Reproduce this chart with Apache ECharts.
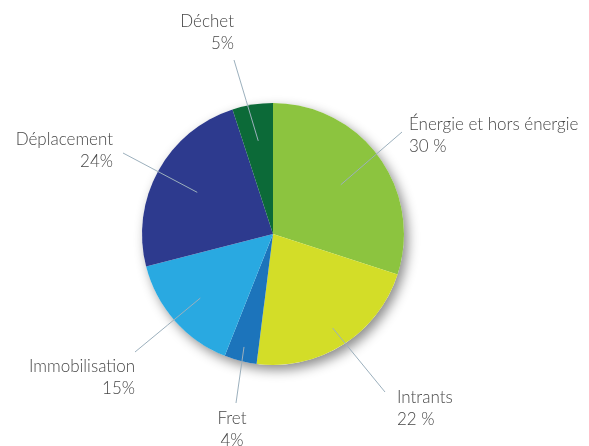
<!DOCTYPE html>
<html>
<head>
<meta charset="utf-8">
<script src="https://cdn.jsdelivr.net/npm/echarts@6/dist/echarts.min.js"></script>
<style>
  html, body { margin: 0; padding: 0; background: #ffffff; }
  #chart { width: 589px; height: 446px; }
</style>
</head>
<body>
<div id="chart"></div>
<script>
// Emission shares by post, clockwise from the top
const categories = ['Énergie et hors énergie', 'Intrants', 'Fret', 'Immobilisation', 'Déplacement', 'Déchet'];
const shares = [30, 22, 4, 15, 24, 5];
// spacing printed between the number and the % sign
const pctSeparators = ['\u00a0', '\u00a0', '', '', '', ''];
const sliceColors = ['#8cc43f', '#d3dd28', '#1c74bb', '#29a9e1', '#2d3a8e', '#0c6a38'];

// pie geometry
const CX = 273, CY = 234, R = 131;

// label placement and leader lines (inner end as a fraction of the radius, outer end in px)
const labelAnchors = [
  { x: 409, y: 114, align: 'left' },
  { x: 397, y: 387, align: 'left' },
  { x: 232, y: 408, align: 'center' },
  { x: 135, y: 356, align: 'right' },
  { x: 113, y: 129, align: 'right' },
  { x: 234, y: 11,  align: 'right' }
];
const lineInner = [0.64, 0.85, 0.89, 0.74, 0.66, 0.72];
const lineOuter = [[402, 132], [385, 392], [236, 403], [135, 352], [123, 153], [234, 60]];

const total = shares.reduce((a, b) => a + b, 0);
const midAngles = [];
let cum = 0;
shares.forEach(v => { midAngles.push((cum + v / 2) / total * 2 * Math.PI); cum += v; });

const sliceData = categories.map((name, i) => ({
  name: name,
  value: shares[i],
  itemStyle: { color: sliceColors[i] }
}));

const chart = echarts.init(document.getElementById('chart'), null, { renderer: 'canvas' });

chart.setOption({
  animation: false,
  backgroundColor: '#ffffff',
  series: [
    {
      // soft drop shadow under the whole disc
      type: 'pie',
      silent: true,
      center: [CX, CY],
      radius: [0, R],
      label: { show: false },
      labelLine: { show: false },
      itemStyle: {
        color: '#ffffff',
        shadowBlur: 12,
        shadowColor: 'rgba(0,0,0,0.45)',
        shadowOffsetX: 4,
        shadowOffsetY: 5
      },
      data: [{ value: total, name: '' }],
      z: 1
    },
    {
      // the coloured slices
      type: 'pie',
      center: [CX, CY],
      radius: [0, R],
      startAngle: 90,
      clockwise: true,
      z: 2,
      itemStyle: { borderWidth: 0 },
      label: { show: false },
      labelLine: { show: false },
      data: sliceData
    },
    {
      // transparent overlay carrying the labels, so leader lines run over the slices
      type: 'pie',
      silent: true,
      center: [CX, CY],
      radius: [0, R],
      startAngle: 90,
      clockwise: true,
      z: 3,
      itemStyle: { color: 'rgba(0,0,0,0)', borderWidth: 0 },
      label: {
        show: true,
        position: 'outside',
        fontFamily: 'Lato, "Open Sans", sans-serif',
        fontSize: 17,
        fontWeight: 300,
        lineHeight: 22,
        color: '#474747',
        formatter: p => p.name + '\n' + p.value + pctSeparators[p.dataIndex] + '%'
      },
      labelLine: {
        show: true,
        length: 10,
        length2: 10,
        lineStyle: { color: '#9cb0bd', width: 1 }
      },
      labelLayout: function (params) {
        const i = params.dataIndex;
        const a = midAngles[i];
        const r = lineInner[i] * R;
        const start = [CX + r * Math.sin(a), CY - r * Math.cos(a)];
        const end = lineOuter[i];
        const mid = [(start[0] + end[0]) / 2, (start[1] + end[1]) / 2];
        const anchor = labelAnchors[i];
        return {
          x: anchor.x,
          y: anchor.y,
          align: anchor.align,
          verticalAlign: 'top',
          labelLinePoints: [start, mid, end]
        };
      },
      data: categories.map((name, i) => ({ name: name, value: shares[i] }))
    }
  ]
});
</script>
</body>
</html>
